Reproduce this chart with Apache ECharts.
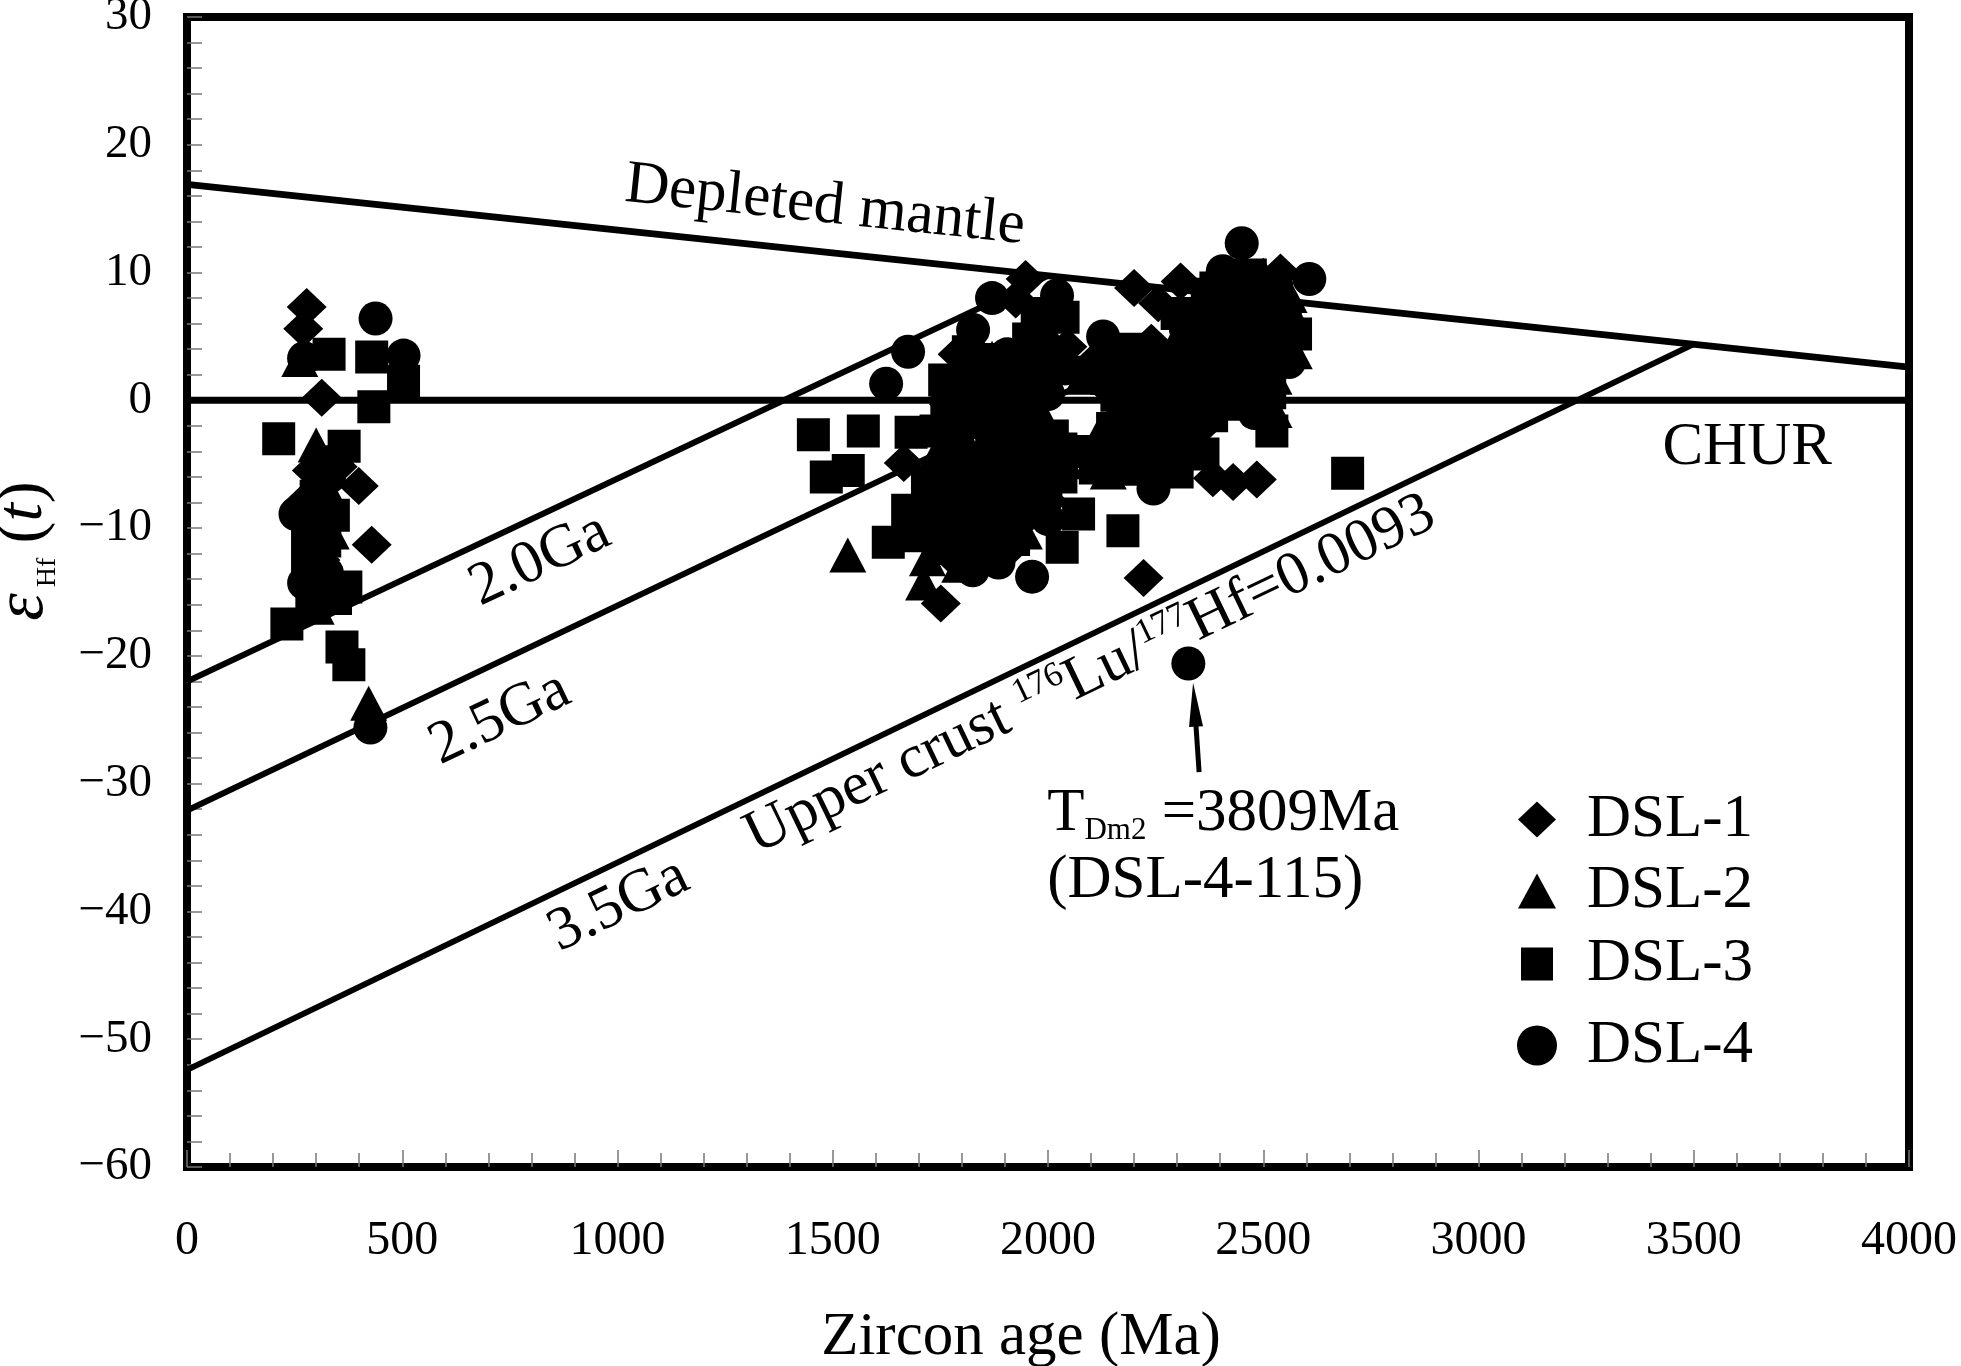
<!DOCTYPE html>
<html>
<head>
<meta charset="utf-8">
<title>Zircon age vs εHf(t)</title>
<script src="https://cdn.jsdelivr.net/npm/echarts@6/dist/echarts.min.js"></script>
<style>
html, body { margin: 0; padding: 0; background: #fff; }
#chart { width: 1961px; height: 1366px; }
</style>
</head>
<body>
<div id="chart"></div>
<script>
// 锆石 Hf 同位素数据: [年龄 Ma, εHf(t)]
var dsl1 = [
    [278, 7.3], [270, 5.6], [313, 0.2], [399, -6.7], [429, -11.3], [290, -5.5], [270, -8.0], [310, -12.5],
    [310, -8.5], [350, -5.2],
    [1948, 9.5], [1925, 7.9], [1665, -4.9], [1751, -15.9], [2222, -13.9], [2000, -7.9], [1790, 3.6], [2045, 4.2],
    [1930, 2.4], [1770, -0.3], [1965, -0.2], [1845, -2.0], [1895, -4.4], [1750, -6.8], [1960, -6.2], [1690, -8.8],
    [1905, -9.0], [1865, -10.4], [1770, -12.0], [1905, -11.8], [1850, -12.6],
    [1990, 6.0], [1790, 1.0], [2010, 1.9], [1880, -1.4], [1765, -3.4], [1980, -3.4], [1870, -5.8], [1830, -7.4],
    [1780, -9.8], [1945, -9.3],
    [2200, 8.8], [2256, 7.6], [2308, 9.3], [2540, 10.0], [2430, 8.6], [2450, 7.0], [2240, 4.5], [2490, 4.1],
    [2290, 2.3], [2130, 1.2], [2360, 0.4], [2350, -2.3], [2200, -3.9], [2383, -6.1], [2430, -6.4], [2485, -6.2],
    [2370, 5.9], [2520, 5.5], [2115, 3.3], [2365, 3.0], [2185, 1.0], [2435, 0.7], [2275, -0.9], [2250, -5.6]
];
var dsl2 = [
    [262, 3.2], [422, -23.7], [295, -11.8], [300, -3.5], [300, -9.5], [300, -16.2], [330, -7.2],
    [335, -10.3], [315, -15.2],
    [1535, -12.1], [1711, -14.3], [2123, -2.4], [1815, 2.2], [1855, -0.6], [1955, -2.2], [1735, -4.6], [2040, -4.8],
    [1915, -6.5], [1795, -8.9], [1945, -10.3], [1720, -12.4], [1795, -12.9], [2005, 5.0], [2080, 1.8],
    [1870, 3.3], [1900, 1.6], [1990, -1.4], [1815, -3.6], [1985, -5.6], [1720, -7.6], [1890, -9.9], [1800, -11.4],
    [2572, 3.8], [2560, 8.2], [2350, 7.2], [2570, 6.6], [2290, 4.2], [2140, 1.8], [2390, 2.4], [2525, 1.8],
    [2260, 0.3], [2460, 0.5], [2200, -1.8], [2310, -3.8], [2140, -5.6], [2500, 9.8],
    [2420, 5.6], [2215, 3.2], [2465, 3.0], [2335, 0.6], [2525, -0.8], [2335, -3.3]
];
var dsl3 = [
    [330, 3.6], [429, 3.4], [503, 1.5], [434, -0.5], [213, -3.0], [365, -3.6], [369, -14.6], [360, -19.3],
    [376, -20.7], [232, -17.5], [300, -7.5], [320, -11.0], [300, -14.0], [345, -15.5], [340, -9.0],
    [320, -4.8], [280, -10.5], [280, -13.0], [290, -15.8],
    [1455, -2.7], [1571, -2.4], [1682, -2.5], [1485, -6.0], [1536, -5.5], [1674, -8.6], [1629, -11.1], [2071, -8.9],
    [2033, -11.5], [2174, -10.2], [1975, 6.8], [1845, 3.2], [1955, 4.8], [1760, 1.6], [1985, 1.8], [1800, 0.2],
    [1910, 0.4], [1740, -2.4], [1900, -2.6], [2010, -2.8], [1785, -4.2], [1840, -5.0], [2000, -4.3], [1720, -6.4],
    [1860, -7.0], [1995, -7.0], [1740, -8.3], [1850, -8.4], [1960, -8.6], [1700, -10.6], [1810, -10.8], [1920, -10.9],
    [1830, -12.2],
    [2035, 6.5], [1815, 3.8], [2010, 3.6], [1845, 1.2], [1765, -1.5], [1935, -1.0], [1925, -3.6], [2030, -3.8],
    [1815, -5.4], [1925, -5.2], [2030, -6.0], [1775, -7.8], [1940, -7.6], [1835, -9.5], [1745, -11.6],
    [2696, -5.7], [2520, -2.4], [2470, 9.8], [2500, 8.4], [2300, 6.8], [2500, 6.4], [2190, 4.0], [2340, 4.7],
    [2440, 4.8], [2540, 4.6], [2090, 2.2], [2240, 1.6], [2440, 1.7], [2160, 0.4], [2310, -0.2], [2410, -0.3],
    [2150, -2.2], [2250, -2.4], [2380, -1.2], [2100, -4.0], [2255, -4.4], [2360, -4.2], [2195, -5.4], [2300, -5.6],
    [2390, 8.8], [2370, 8.3], [2575, 5.2], [2165, 3.0], [2315, 3.2], [2515, 3.2], [2235, 0.7], [2385, 1.0],
    [2485, 1.0], [2515, 0.6], [2225, -1.2], [2330, -1.1], [2175, -3.0], [2285, -2.9], [2110, -5.3]
];
var dsl4 = [
    [438, 6.4], [503, 3.5], [272, 3.3], [252, -8.9], [272, -14.3], [330, -6.0], [426, -25.6],
    [325, -13.5],
    [1675, 3.8], [1624, 1.3], [1765, 0.7], [1826, 5.5], [1870, 8.0], [2021, 8.2], [1963, -13.8], [2128, 5.0],
    [2245, -6.9], [2326, -20.6], [1905, 3.6], [1870, 1.5], [2040, 2.5], [2000, 0.5], [1790, -2.8], [1950, -4.8],
    [1805, -6.3], [2000, -9.3], [1755, -10.2], [1885, -12.7],
    [1960, 3.4], [1955, 0.8], [1820, -1.2], [1870, -3.3], [1760, -5.5], [1885, -7.9], [1725, -9.5], [1855, -11.7],
    [1825, -13.3],
    [2450, 12.3], [2607, 9.5], [2406, 10.1], [2400, 6.6], [2550, 6.8], [2390, 4.4], [2190, 2.4], [2340, 1.8],
    [2490, 2.4], [2210, -0.4], [2505, -0.2], [2300, -1.9], [2480, -1.0], [2150, -4.5],
    [2530, 9.0], [2320, 5.6], [2470, 5.8], [2265, 3.0], [2415, 3.3], [2560, 3.0], [2285, 1.1], [2175, -1.0],
    [2230, -3.2]
];

// 参考线: 亏损地幔、球粒陨石、地壳演化线
var depletedMantle = [[0, 16.9], [4000, 2.6]];
var chur = [[0, 0], [4000, 0]];
var crust20 = [[0, -22.0], [2000, 9.75]];
var crust25 = [[0, -32.1], [2500, 8.0]];
var crust35 = [[0, -52.4], [3500, 4.4]];

// 坐标轴范围 [min, max, interval]
var xRange = [0, 4000, 500];
var yRange = [-60, 30, 10];

// 图例名称
var seriesNames = ['DSL-1', 'DSL-2', 'DSL-3', 'DSL-4'];

// 标注锚点 (数据坐标)
var posDM = [1482, 15.2];
var posCHUR = [3624, -3.7];
var pos20 = [820, -12.5];
var pos25 = [727, -24.9];
var pos35 = [1003, -39.5];
var posCrust = [2098, -21.5];
var posTdm = [1998, -32.4];
var posSample = [1998, -37.6];
var arrowTail = [2351, -29.1];
var arrowTip = [2337, -22.1];

var serif = "'Liberation Serif', 'Times New Roman', serif";
var chart = echarts.init(document.getElementById('chart'));

function scatter(name, data, symbol, size) {
    return {
        name: name, type: 'scatter', data: data,
        symbol: symbol, symbolSize: size,
        itemStyle: { color: '#000', opacity: 1 },
        z: 4, silent: true
    };
}
function refLine(data, width) {
    return {
        type: 'line', data: data, symbol: 'none', showSymbol: false,
        lineStyle: { color: '#000', width: width },
        z: 2, silent: true
    };
}

// 图例: 每项单独定位
var legendIcons = ['diamond', 'triangle', 'rect', 'circle'];
var legendBox = [[38, 36], [38, 35], [32, 33], [40, 40]];
var legendRow = [807, 878, 950, 1035];
var legends = [];
for (let i = 0; i < seriesNames.length; i++) {
    let w = legendBox[i][0], h = legendBox[i][1];
    legends.push({
        data: [{ name: seriesNames[i], icon: legendIcons[i] }],
        orient: 'vertical',
        left: 1537 - w / 2,
        top: legendRow[i] - h / 2,
        padding: 0,
        itemWidth: w,
        itemHeight: h,
        selectedMode: false,
        textStyle: {
            fontSize: 61, fontFamily: serif, color: '#000',
            lineHeight: 60, padding: [0, 0, 0, 45 - w / 2]
        }
    });
}

var option = {
    animation: false,
    backgroundColor: '#fff',
    grid: {
        left: 187, right: 52, top: 17, bottom: 199,
        outerBoundsMode: 'none',
        containLabel: false,
        show: true, borderColor: '#000', borderWidth: 8
    },
    legend: legends,
    xAxis: {
        type: 'value', min: xRange[0], max: xRange[1], interval: xRange[2],
        axisLine: { show: true, onZero: false, lineStyle: { color: '#000', width: 8 } },
        axisTick: { show: true, inside: true, length: 17, lineStyle: { color: '#777', width: 1.5 } },
        minorTick: { show: true, splitNumber: 5, length: 14, lineStyle: { color: '#777', width: 1.5 } },
        splitLine: { show: false },
        axisLabel: {
            margin: 50, fontSize: 48, fontFamily: serif, color: '#000',
            formatter: function (v) { return String(v); }
        },
        name: 'Zircon age (Ma)',
        nameLocation: 'middle',
        nameGap: 140,
        nameTextStyle: { fontSize: 61, fontFamily: serif, color: '#000', padding: [0, 54, 0, 0] }
    },
    yAxis: {
        type: 'value', min: yRange[0], max: yRange[1], interval: yRange[2],
        axisLine: { show: true, onZero: false, lineStyle: { color: '#000', width: 8 } },
        axisTick: { show: true, inside: true, length: 15, lineStyle: { color: '#777', width: 1.5 } },
        minorTick: { show: true, splitNumber: 5, length: 15, lineStyle: { color: '#777', width: 1.5 } },
        splitLine: { show: false },
        axisLabel: {
            margin: 35, fontSize: 47, fontFamily: serif, color: '#000',
            formatter: function (v) { return String(v).replace('-', '\u2212'); }
        },
        name: '{e|ε}{s|Hf}{p|(}{i|t}{p|)}',
        nameLocation: 'middle',
        nameRotate: 90,
        nameGap: 125,
        nameTextStyle: {
            color: '#000',
            padding: [0, 0, 0, 82],
            rich: {
                e: { fontSize: 70, fontStyle: 'italic', fontFamily: serif, color: '#000', lineHeight: 76 },
                s: { fontSize: 28, fontFamily: serif, color: '#000', lineHeight: 40, verticalAlign: 'bottom', padding: [0, 14, 0, 6] },
                p: { fontSize: 66, fontFamily: serif, color: '#000', lineHeight: 76 },
                i: { fontSize: 66, fontStyle: 'italic', fontFamily: serif, color: '#000', lineHeight: 76 }
            }
        }
    },
    series: [
        refLine(depletedMantle, 7),
        refLine(chur, 7),
        refLine(crust20, 6),
        refLine(crust25, 6),
        refLine(crust35, 6),
        scatter(seriesNames[0], dsl1, 'diamond', [40, 38]),
        scatter(seriesNames[1], dsl2, 'triangle', [37, 35]),
        scatter(seriesNames[2], dsl3, 'rect', 33),
        scatter(seriesNames[3], dsl4, 'circle', 34)
    ]
};
chart.setOption(option);

// 文字标注与箭头
{
    function toPx(p) { return chart.convertToPixel({ gridIndex: 0 }, p); }
    function lineAngle(line) {
        let a = toPx(line[0]), b = toPx(line[line.length - 1]);
        return -Math.atan2(b[1] - a[1], b[0] - a[0]);
    }
    function textAt(pos, text, rot, align, rich) {
        let p = toPx(pos);
        let style = {
            text: text, fontSize: 61, fontFamily: serif, fill: '#000',
            align: align || 'center', verticalAlign: 'middle'
        };
        if (rich) style.rich = rich;
        return { type: 'text', x: p[0], y: p[1], rotation: rot || 0, z: 10, silent: true, style: style };
    }
    let main = { fontSize: 61, fontFamily: serif, fill: '#000', lineHeight: 64 };
    let sup = { fontSize: 35, fontFamily: serif, fill: '#000', lineHeight: 40, verticalAlign: 'top' };
    let sub = { fontSize: 31, fontFamily: serif, fill: '#000', lineHeight: 40, verticalAlign: 'bottom' };

    let tip = toPx(arrowTip), tail = toPx(arrowTail);
    let dx = tip[0] - tail[0], dy = tip[1] - tail[1];
    let len = Math.sqrt(dx * dx + dy * dy);
    let ux = dx / len, uy = dy / len, nx = -uy, ny = ux;
    let bx = tip[0] - ux * 44, by = tip[1] - uy * 44;

    let graphics = [
        textAt(posDM, 'Depleted mantle', lineAngle(depletedMantle)),
        textAt(posCHUR, 'CHUR', 0),
        textAt(pos20, '2.0Ga', lineAngle(crust20)),
        textAt(pos25, '2.5Ga', lineAngle(crust25)),
        textAt(pos35, '3.5Ga', lineAngle(crust35)),
        textAt(posCrust, '{a|Upper crust }{s|176}{a|Lu/}{s|177}{a|Hf=0.0093}', lineAngle(crust35), 'center', { a: main, s: sup }),
        textAt(posTdm, '{a|T}{b|Dm2}{a| =3809Ma}', 0, 'left', { a: main, b: sub }),
        textAt(posSample, '(DSL-4-115)', 0, 'left'),
        {
            type: 'line', z: 10, silent: true,
            shape: { x1: tail[0], y1: tail[1], x2: bx + ux * 4, y2: by + uy * 4 },
            style: { stroke: '#000', lineWidth: 5 }
        },
        {
            type: 'polygon', z: 10, silent: true,
            shape: { points: [[tip[0], tip[1]], [bx + nx * 7, by + ny * 7], [bx - nx * 7, by - ny * 7]] },
            style: { fill: '#000' }
        }
    ];
    chart.setOption({ graphic: graphics });
}
</script>
</body>
</html>
